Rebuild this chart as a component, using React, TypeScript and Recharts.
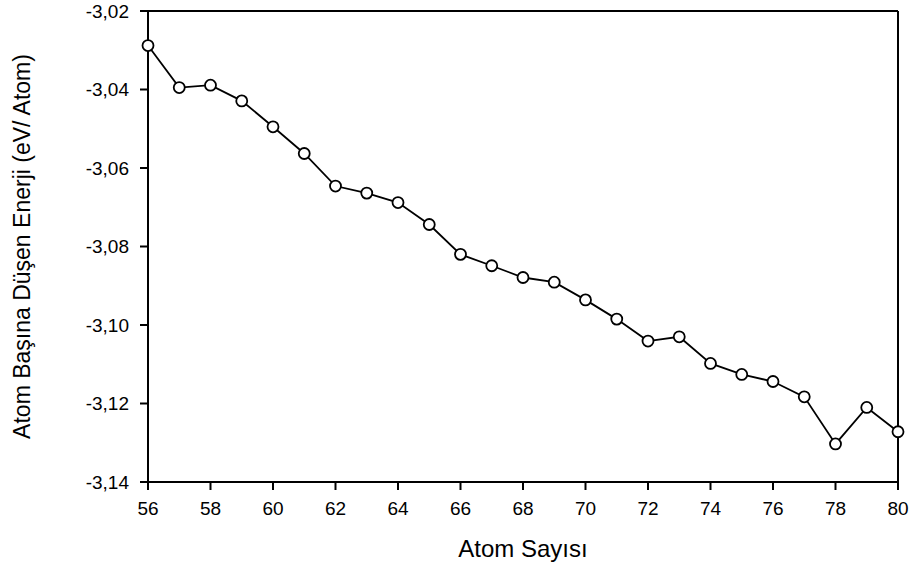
import { CartesianGrid, Label, Line, LineChart, ReferenceLine, XAxis, YAxis } from "recharts";

// Energy per atom vs atom count.
const atomCounts = [56, 57, 58, 59, 60, 61, 62, 63, 64, 65, 66, 67, 68, 69, 70, 71, 72, 73, 74, 75, 76, 77, 78, 79, 80];
const energies = [
  -3.0288, -3.0395, -3.0389, -3.0429, -3.0495, -3.0563, -3.0646, -3.0664, -3.0688, -3.0744,
  -3.082, -3.0849, -3.0879, -3.0891, -3.0936, -3.0985, -3.1041, -3.103, -3.1098, -3.1126,
  -3.1144, -3.1183, -3.1303, -3.121, -3.1272,
];
const xTicks = [56, 58, 60, 62, 64, 66, 68, 70, 72, 74, 76, 78, 80];
const yTicks = [-3.14, -3.12, -3.1, -3.08, -3.06, -3.04, -3.02];

const data = atomCounts.map((n, i) => ({ n, e: energies[i] }));

const FONT = "'Liberation Sans', Arial, sans-serif";
const TICK = { fill: "#000", fontSize: 19, fontFamily: FONT };
const AXIS_LINE = { stroke: "#000", strokeWidth: 2 };

const fmt = (v: number) => v.toFixed(2).replace(".", ",");

export default function App() {
  return (
    <div style={{ width: 913, height: 566, background: "#fff" }}>
      <style>{`body{margin:0}`}</style>
      <LineChart width={913} height={566} data={data} margin={{ top: 11, right: 15, bottom: 0, left: 0 }}>
        <CartesianGrid stroke="none" />
        <XAxis
          dataKey="n"
          type="number"
          domain={[56, 80]}
          ticks={xTicks}
          height={84}
          tick={TICK}
          tickSize={8}
          tickMargin={12}
          axisLine={AXIS_LINE}
          tickLine={AXIS_LINE}
        >
          <Label
            content={({ viewBox }: any) => (
              <text
                x={viewBox.x + viewBox.width / 2}
                y={viewBox.y + 75}
                textAnchor="middle"
                fontSize={24}
                fontFamily={FONT}
                fill="#000"
              >
                Atom Sayısı
              </text>
            )}
          />
        </XAxis>
        <YAxis
          type="number"
          domain={[-3.14, -3.02]}
          ticks={yTicks}
          width={148}
          tick={TICK}
          tickSize={8}
          tickMargin={11}
          tickFormatter={fmt}
          axisLine={AXIS_LINE}
          tickLine={AXIS_LINE}
        >
          <Label
            content={({ viewBox }: any) => {
              const x = viewBox.x + 30;
              const y = viewBox.y + viewBox.height / 2;
              return (
                <text
                  x={x}
                  y={y}
                  transform={`rotate(-90 ${x} ${y})`}
                  textAnchor="middle"
                  fontSize={23}
                  fontFamily={FONT}
                  fill="#000"
                >
                  Atom Başına Düşen Enerji (eV/ Atom)
                </text>
              );
            }}
          />
        </YAxis>
        <ReferenceLine y={-3.02} stroke="#000" strokeWidth={2} />
        <ReferenceLine x={80} stroke="#000" strokeWidth={2} />
        <Line
          isAnimationActive={false}
          type="linear"
          dataKey="e"
          stroke="#000"
          strokeWidth={1.8}
          dot={{ r: 5.5, fill: "#fff", stroke: "#000", strokeWidth: 1.8 }}
        />
      </LineChart>
    </div>
  );
}
